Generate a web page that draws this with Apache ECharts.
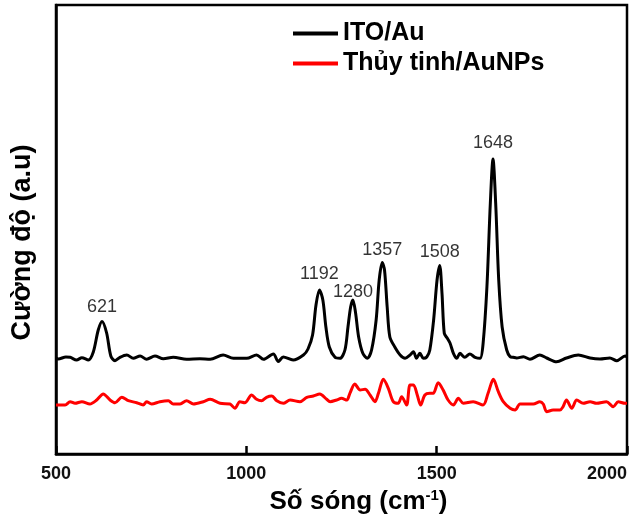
<!DOCTYPE html>
<html>
<head>
<meta charset="utf-8">
<script src="https://cdn.jsdelivr.net/npm/echarts@6/dist/echarts.min.js"></script>
<style>html,body{margin:0;padding:0;background:#fff}#c{width:638px;height:514px}</style>
</head>
<body>
<div id="c"></div>
<script>
// ---- data (wavenumber cm-1, intensity a.u.) ----
const xTicks = [500, 1000, 1500, 2000];
const seriesNames = ['ITO/Au', 'Thủy tinh/AuNPs'];
const blackWn = [500,506,526,537,554,568,585,598,611,621,633,644,655,668,686,703,721,738,760,782,808,843,878,905,939,966,1001,1027,1045,1071,1084,1097,1123,1150,1162,1174,1183,1192,1201,1209,1218,1233,1246,1259,1267,1274,1280,1287,1295,1306,1318,1329,1341,1349,1357,1363,1370,1377,1390,1404,1417,1430,1439,1447,1456,1465,1474,1482,1492,1501,1508,1514,1520,1528,1535,1544,1553,1561,1574,1587,1601,1614,1622,1632,1641,1648,1655,1663,1672,1684,1693,1701,1710,1728,1745,1771,1789,1815,1841,1872,1903,1929,1955,1973,1995,2000];
const blackI = [96,95,97,96.7,94,96.3,94,102,124,132.5,121,98,93.3,96.7,99,95.7,98,94.7,98,95.3,96.7,94.7,95.3,94.7,99,95.7,95.7,99,94.7,100,92.5,97,94,99,105,119,149,164,154,127,107,96.7,95.7,104,127,147,154,141,117,100.7,95.7,104,134,174,191.5,184,147,117,107,99,95.7,99,102.3,95.7,100.7,95.7,97,104,134,174,188.5,160.7,120.7,115.7,111,100.7,95.7,100.7,96.7,100,96.7,95.7,110.7,167,251,295,251,174,127,104,97.3,96.7,96,97.3,94.7,99,96,92.3,96,99,96,95,96,93.3,98,97];
const redWn = [500,506,524,537,550,568,589,607,624,642,655,673,690,712,729,738,751,773,795,808,826,843,861,887,905,931,957,970,983,996,1014,1027,1040,1053,1067,1080,1097,1115,1141,1159,1176,1193,1211,1220,1237,1250,1264,1272,1285,1299,1312,1325,1338,1347,1360,1373,1386,1399,1408,1421,1430,1439,1449,1458,1469,1482,1491,1504,1517,1530,1544,1557,1570,1596,1622,1635,1649,1662,1675,1693,1706,1719,1736,1754,1771,1780,1789,1806,1824,1832,1841,1855,1868,1885,1903,1920,1946,1964,1977,1995,2000];
const redI = [49,49,49,52.3,50.7,52.3,50,54,60,54,51.3,56.7,53.3,51.3,49,52.3,50,52.3,53.3,50,50,53.3,50,52.3,54.7,50.7,50,45.7,52.3,51.3,59,54.7,53.3,56.7,58,53.3,50.7,54,52.3,56.7,58,60,54.7,52.3,54,55.7,54,60.7,70,64,64.7,59,52.3,60.7,74.7,65.7,52.3,50.7,57.3,49,69,69,59,49,59,60.7,60.7,71.3,64,54,49,55.7,50.7,52.3,49,60.7,74.7,62.3,52.3,45.7,44,50,50,50,52.3,50,42.3,44,44,47.3,54,45.7,54,50.7,52.3,50.7,52.3,47.3,52.3,50.7,50.7];
const peakWn = [621, 1192, 1280, 1357, 1508, 1648];

// ---- styling ----
const labelGap = [5, 7, -1, 3, 4, 7];
const FONT = '"Liberation Sans", Arial, sans-serif';

const zip = (a, b) => a.map((v, i) => [v, b[i]]);
const blackData = zip(blackWn, blackI);
const redData = zip(redWn, redI);
const peakData = peakWn.map((w, i) => ({
  value: [w, blackI[blackWn.indexOf(w)]],
  label: { distance: labelGap[i] }
}));

const chart = echarts.init(document.getElementById('c'), null, { renderer: 'canvas' });
chart.setOption({
  animation: false,
  backgroundColor: '#fff',
  grid: { left: 56, right: 11, top: 5, bottom: 60, containLabel: false, outerBoundsMode: 'none',
          show: true, borderColor: '#000', borderWidth: 2.5, backgroundColor: 'transparent' },
  legend: {
    data: seriesNames,
    orient: 'vertical',
    left: 288, top: 16,
    itemWidth: 45, itemHeight: 4, itemGap: 5,
    icon: 'rect',
    textStyle: { fontFamily: FONT, fontWeight: 'bold', fontSize: 25, color: '#000', lineHeight: 24 }
  },
  xAxis: {
    type: 'value', min: 500, max: 2000, interval: 500,
    name: '{a|Số sóng (cm}{s|-1}{a|)}',
    nameLocation: 'middle', nameGap: 32,
    nameTextStyle: {
      padding: [0, 0, 0, 34],
      rich: {
        a: { fontFamily: FONT, fontWeight: 'bold', fontSize: 26, color: '#000' },
        s: { fontFamily: FONT, fontWeight: 'bold', fontSize: 15, color: '#000', padding: [0, 0, 12, 0] }
      }
    },
    axisLine: { show: true, lineStyle: { color: '#000', width: 2.5 } },
    axisTick: { show: true, inside: true, length: 8, lineStyle: { color: '#000', width: 2.5 } },
    axisLabel: { margin: 11, fontFamily: FONT, fontWeight: 'bold', fontSize: 18, color: '#111',
                 alignMaxLabel: 'right', formatter: v => String(v) },
    splitLine: { show: false }
  },
  yAxis: {
    type: 'value', min: 0, max: 449,
    name: 'Cường độ (a.u)',
    nameLocation: 'middle', nameGap: 20,
    nameTextStyle: { fontFamily: FONT, fontWeight: 'bold', fontSize: 27, color: '#000', padding: [0, 26, 0, 0] },
    axisLine: { show: true, lineStyle: { color: '#000', width: 2.5 } },
    axisTick: { show: false },
    axisLabel: { show: false },
    splitLine: { show: false }
  },
  series: [
    { name: seriesNames[0], type: 'line', data: blackData, showSymbol: false, smooth: 0.3,
      lineStyle: { color: '#000', width: 3 }, itemStyle: { color: '#000' }, z: 3 },
    { name: seriesNames[1], type: 'line', data: redData, showSymbol: false, smooth: 0.3,
      lineStyle: { color: '#ff0000', width: 3 }, itemStyle: { color: '#ff0000' }, z: 2 },
    { name: 'peaks', type: 'scatter', data: peakData, symbolSize: 0, silent: true,
      label: { show: true, position: 'top', formatter: p => String(p.value[0]),
               fontFamily: FONT, fontSize: 18, color: '#000' }, z: 4 }
  ]
});
</script>
</body>
</html>
